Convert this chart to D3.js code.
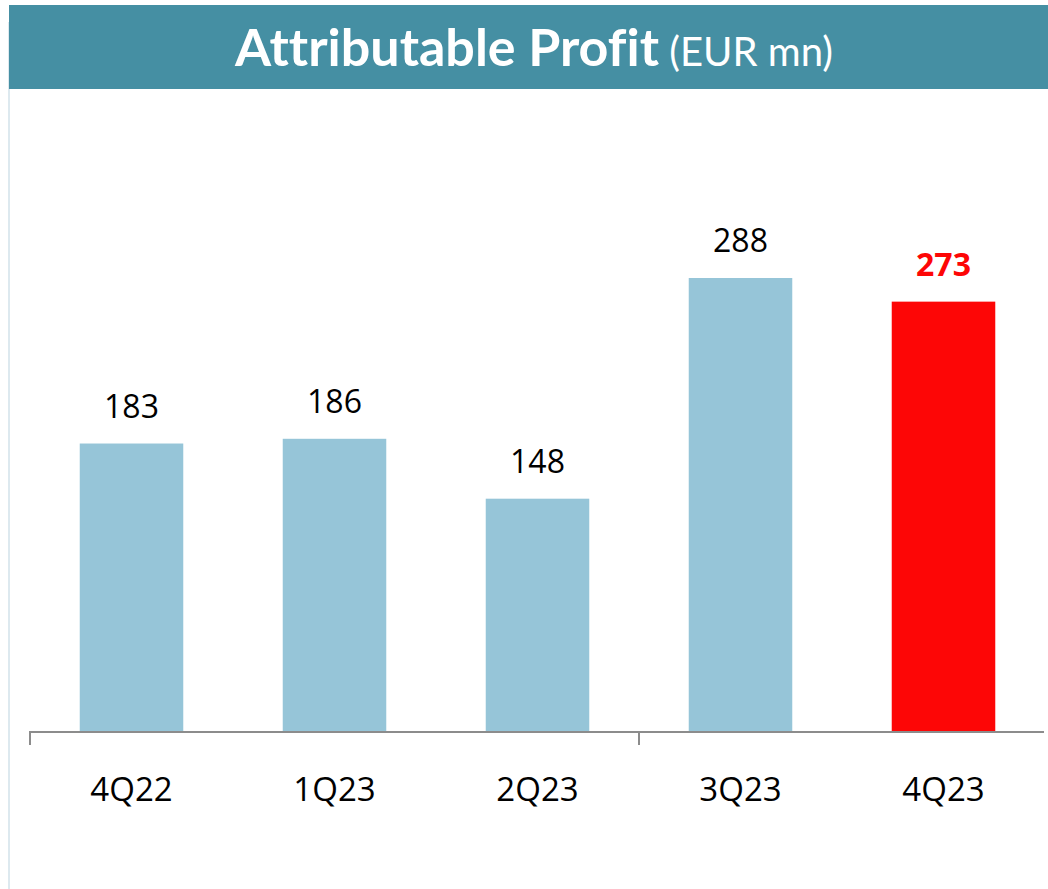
<html>
<head>
  <script src="https://d3js.org/d3.v7.min.js"></script>
  <style>
    body { margin: 0; background: white; }
    .bar { fill: #96c5d8; }
    .bar.last { fill: #fd0606; }
    .val { font-family: "Open Sans", sans-serif; font-size: 32px; fill: black; text-anchor: middle; }
    .val.last { fill: #fd0606; font-weight: bold; }
    .cat { font-family: "Open Sans", sans-serif; font-size: 33px; fill: black; }
  </style>
</head>
<body>
  <svg id="chart" width="1048" height="889"></svg>
  <script>
    // data
    const quarters = ["4Q22", "1Q23", "2Q23", "3Q23", "4Q23"];
    const profit = [183, 186, 148, 288, 273];

    const svg = d3.select("#chart");

    // left border + header band
    svg.append("rect").attr("x", 8).attr("y", 22).attr("width", 2).attr("height", 867).attr("fill", "#dde9ef");
    svg.append("rect").attr("x", 9).attr("y", 5).attr("width", 1039).attr("height", 84).attr("fill", "#458fa3");

    const title = svg.append("text")
      .attr("x", 534).attr("y", 66)
      .attr("text-anchor", "middle")
      .attr("fill", "white")
      .style("font-family", "Lato, sans-serif")
      .style("font-variant-ligatures", "none");
    title.append("tspan").text("Attributable Profit").style("font-weight", "bold").style("font-size", "52px");
    title.append("tspan").text(" (EUR mn)").style("font-size", "40px");

    const x = d3.scaleBand()
      .domain(quarters)
      .range([30, 1045])
      .paddingInner(0.49)
      .paddingOuter(0.245);

    const y = d3.scaleLinear()
      .domain([0, 288])
      .range([732, 278]);

    const g = svg.append("g");

    g.selectAll(".bar").data(quarters)
      .enter().append("rect")
      .attr("class", (d, i) => i == quarters.length - 1 ? "bar last" : "bar")
      .attr("x", d => x(d))
      .attr("width", x.bandwidth())
      .attr("y", (d, i) => y(profit[i]))
      .attr("height", (d, i) => y(0) - y(profit[i]));

    g.selectAll(".val").data(quarters)
      .enter().append("text")
      .attr("class", (d, i) => i == quarters.length - 1 ? "val last" : "val")
      .attr("x", d => x(d) + x.bandwidth() / 2)
      .attr("y", (d, i) => y(profit[i]) - 26)
      .text((d, i) => profit[i]);

    // axis: only left end tick and one between 2Q23 and 3Q23
    const axis = d3.axisBottom(x).tickSize(0).tickPadding(46);
    const ag = svg.append("g")
      .attr("transform", "translate(0," + y(0) + ")")
      .call(axis);
    ag.select(".domain").attr("stroke", "#8c8c8c").attr("stroke-width", 2)
      .attr("d", "M30,13V0H1044");
    ag.selectAll(".tick text").attr("class", "cat").attr("fill", "black");

    const sep = (x("2Q23") + x.bandwidth() + x("3Q23")) / 2;
    ag.append("line")
      .attr("x1", sep).attr("x2", sep)
      .attr("y1", 0).attr("y2", 13)
      .attr("stroke", "#8c8c8c").attr("stroke-width", 2);
  </script>
</body>
</html>
